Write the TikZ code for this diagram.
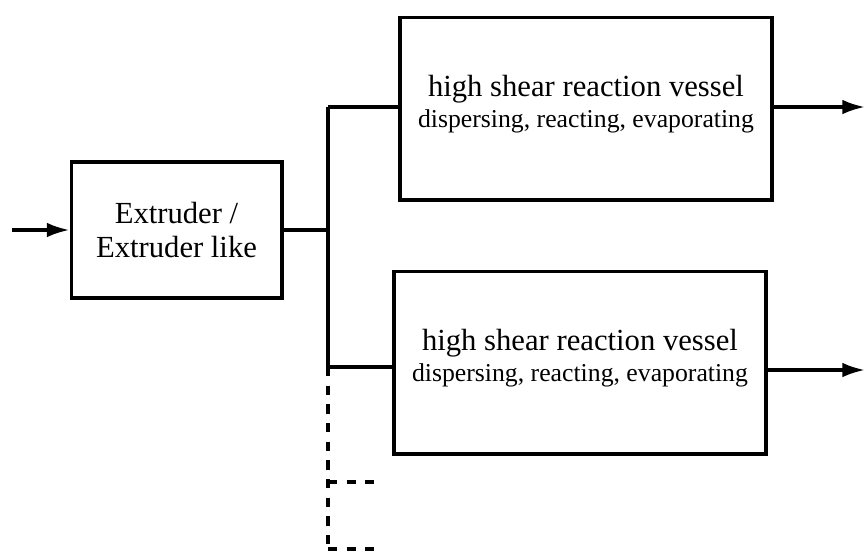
\documentclass[tikz,border=0pt]{standalone}
\usepackage{fontspec}
\setmainfont{Liberation Serif}
\usetikzlibrary{arrows.meta, positioning}

\newcommand{\mainsize}{\fontsize{23}{26}\selectfont}
\newcommand{\subsize}{\fontsize{19.3}{24}\selectfont}

\begin{document}
\begin{tikzpicture}[
    x=0.75pt, y=-0.75pt,
    box/.style={draw, rectangle, line width=2.5pt, align=center, inner sep=0pt, font=\mainsize},
    vessel/.style={box, minimum width=279pt, minimum height=137pt},
    flow/.style={line width=2.5pt, -{Latex[length=17pt, width=11pt]}},
    link/.style={line width=2.5pt},
    spare/.style={line width=2.3pt, dash pattern=on 7pt off 7pt}
]
\useasboundingbox (0,0) rectangle (865,551);

% Extruder stage
\node[box, minimum width=158pt, minimum height=102pt] (extruder) at (176.5,230) {Extruder /\\Extruder like};

% Reaction vessels
\node[vessel] (vesselA) at (586,108.5) {high shear reaction vessel\\[-3pt]{\subsize dispersing, reacting, evaporating}\\[-15pt]};
\node[vessel] (vesselB) at (580,362.5) {high shear reaction vessel\\[-3pt]{\subsize dispersing, reacting, evaporating}\\[-15pt]};

% Branch points
\coordinate (feed) at (12,230);
\coordinate (split) at (328,230);
\coordinate (upper) at (328,107);
\coordinate (lower) at (328,367);
\coordinate (tail) at (328,551);
\coordinate (stubA) at (328,482);
\coordinate (stubAend) at (374,482);
\coordinate (stubB) at (328,549);
\coordinate (stubBend) at (374,549);
\coordinate (outA) at (865,107);
\coordinate (outB) at (865,370);

% Feed into extruder
\draw[flow] (feed) -- (extruder);

% Distribution to vessels
\draw[link] (extruder) -- (split);
\draw[link] (upper) -- (lower);
\draw[link] (upper) -- (upper -| vesselA.west);
\draw[link] (lower) -- (lower -| vesselB.west);

% Further optional branches
\draw[spare] (lower) -- (tail);
\draw[spare] (stubA) -- (stubAend);
\draw[spare] (stubB) -- (stubBend);

% Product outlets
\draw[flow] (vesselA.east |- outA) -- (outA);
\draw[flow] (vesselB.east |- outB) -- (outB);

\end{tikzpicture}
\end{document}
